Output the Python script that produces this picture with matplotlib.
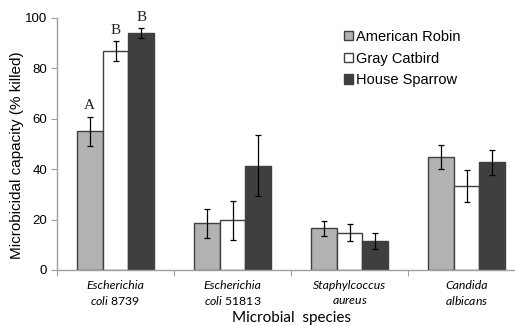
import matplotlib
matplotlib.use("Agg")
import matplotlib.pyplot as plt
import numpy as np

categories_line1 = ["Escherichia", "Escherichia", "Staphylcoccus", "Candida"]
categories_line2 = [("coli", " 8739"), ("coli", " 51813"), ("aureus", ""), ("albicans", "")]
series = ["American Robin", "Gray Catbird", "House Sparrow"]
values = {
    "American Robin": [55.0, 18.5, 16.5, 45.0],
    "Gray Catbird": [86.8, 19.7, 14.8, 33.2],
    "House Sparrow": [94.0, 41.4, 11.4, 42.7],
}
errors = {
    "American Robin": [5.8, 5.8, 3.0, 4.8],
    "Gray Catbird": [3.9, 7.8, 3.3, 6.4],
    "House Sparrow": [1.9, 12.0, 3.2, 5.1],
}
letters = {"American Robin": "A", "Gray Catbird": "B", "House Sparrow": "B"}
colors = {"American Robin": "#b2b2b2", "Gray Catbird": "#ffffff", "House Sparrow": "#3f3f3f"}

plt.rcParams['mathtext.fontset'] = 'custom'
plt.rcParams['mathtext.it'] = 'Lato:italic'
plt.rcParams['mathtext.rm'] = 'Lato'

W, H = 515, 326
fig = plt.figure(figsize=(W / 100, H / 100), dpi=100)
left_px, right_px, top_px, bot_px = 57, 515, 18, 270
cat_w = 117.0
ax = fig.add_axes([left_px / W, (H - bot_px) / H, (right_px - left_px) / W, (bot_px - top_px) / H])
xmax = (right_px - left_px) / cat_w - 0.5
ax.set_xlim(-0.5, xmax)
ax.set_ylim(0, 100)

x = np.arange(len(categories_line1))
bw = 0.222
for i, s in enumerate(series):
    pos = x + (i - 1) * bw
    ax.bar(pos, values[s], width=bw, color=colors[s], edgecolor="#404040", linewidth=1.0,
           label=s, zorder=2)
    ax.errorbar(pos, values[s], yerr=errors[s], fmt="none", ecolor="black", elinewidth=0.9,
                capsize=2.5, capthick=0.9, zorder=3)
    ax.text(pos[0], values[s][0] + errors[s][0] + 1.8, letters[s], ha="center", va="bottom",
            fontsize=11, family="Liberation Serif", color="#222222")

for sp in ["top", "right"]:
    ax.spines[sp].set_visible(False)
for sp in ["left", "bottom"]:
    ax.spines[sp].set_color("#a0a0a0")
    ax.spines[sp].set_linewidth(1.0)

ax.set_yticks([0, 20, 40, 60, 80, 100])
ax.tick_params(axis="y", direction="out", length=4, color="#a0a0a0", labelsize=9.5, pad=3)
for lab in ax.get_yticklabels():
    lab.set_family("Liberation Sans")
ax.set_xticks([-0.5, 0.5, 1.5, 2.5])
ax.set_xticklabels([])
ax.tick_params(axis="x", direction="out", length=4, color="#a0a0a0")

for i in range(len(categories_line1)):
    ax.text(x[i], -6.3, categories_line1[i], ha="center", va="center", fontsize=8.8,
            family="Lato", style="italic")
    it, rm = categories_line2[i]
    ax.text(x[i], -12.3, r"$\mathit{" + it + "}$" + rm, ha="center", va="center",
            fontsize=8.8, family="Lato")

fig.text(17 / W, 1 - 155 / H, "Microbicidal capacity (% killed)", rotation=90, ha="center",
         va="center", fontsize=11, family="Liberation Sans")
fig.text((left_px + 525) / 2 / W, 1 - 318 / H, "Microbial  species", ha="center", va="center",
         fontsize=11, family="Lato")

leg = ax.legend(loc="upper left",
                bbox_to_anchor=((344 - left_px) / (right_px - left_px), (bot_px - 30) / (bot_px - top_px)),
                frameon=False, prop={"family": "Liberation Sans", "size": 10.5},
                handlelength=0.6, handleheight=0.6, handletextpad=0.25, labelspacing=0.52,
                borderaxespad=0, borderpad=0)

fig.savefig("out.png", dpi=100)
